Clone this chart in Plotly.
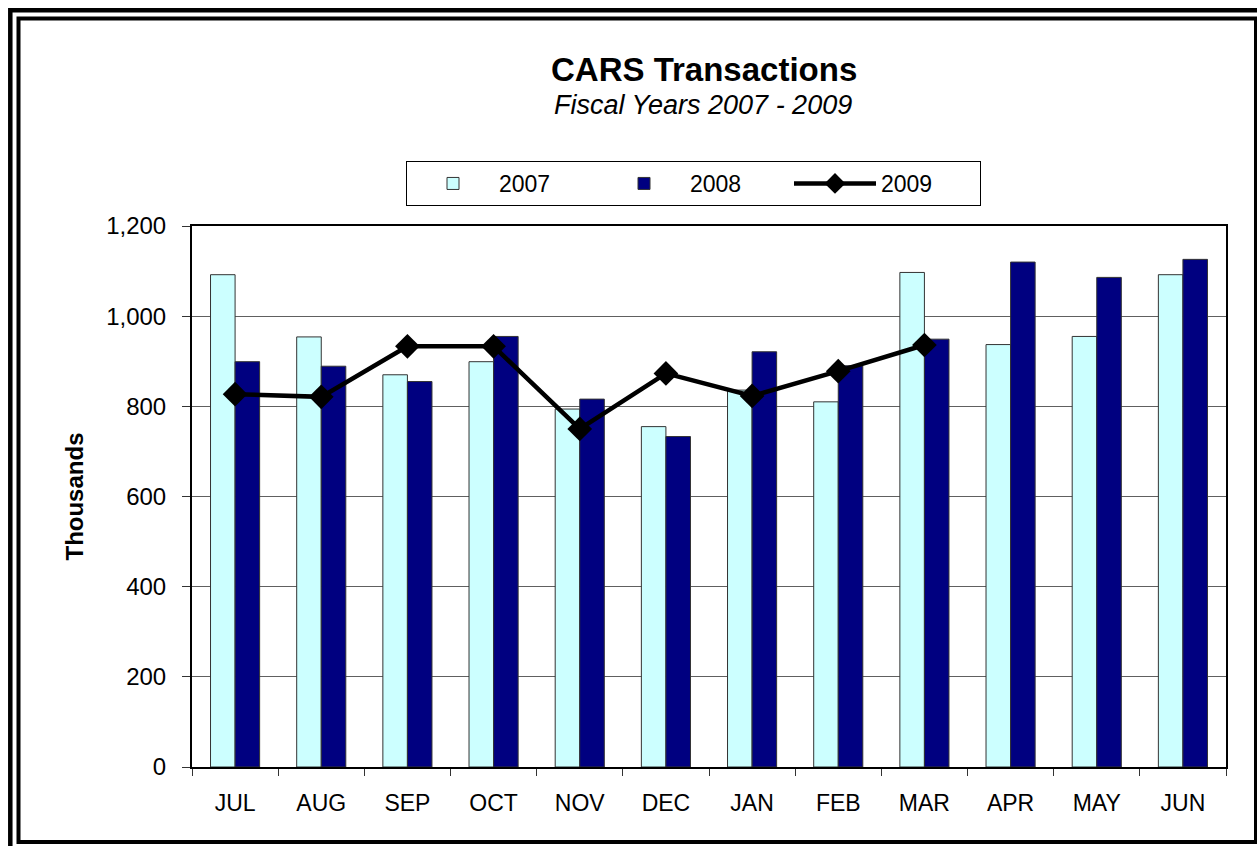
import plotly.graph_objects as go

months = ["JUL", "AUG", "SEP", "OCT", "NOV", "DEC", "JAN", "FEB", "MAR", "APR", "MAY", "JUN"]
fy2007 = [1092, 954, 870, 899, 794, 755, 836, 810, 1097, 937, 955, 1092]
fy2008 = [899, 889, 855, 955, 816, 733, 921, 890, 949, 1120, 1086, 1126]
fy2009 = [827, 821, 933, 933, 750, 873, 823, 878, 936, None, None, None]
y_ticks = [0, 200, 400, 600, 800, 1000, 1200]
y_ticktext = ["0", "200", "400", "600", "800", "1,000", "1,200"]

FONT = "Arial, Liberation Sans, sans-serif"
W, H = 1257, 846
L, R, T, B = 192, 1226, 226, 767  # plot area in pixels


def px_x(p):
    return (p - L) / (R - L)


def px_y(p):
    return (B - p) / (B - T)


fig = go.Figure()
fig.add_trace(go.Bar(
    x=months, y=fy2007, name="2007",
    marker=dict(color="#CCFFFF", line=dict(color="#333333", width=1)),
))
fig.add_trace(go.Bar(
    x=months, y=fy2008, name="2008",
    marker=dict(color="#000080", line=dict(color="#333333", width=1)),
))
fig.add_trace(go.Scatter(
    x=months, y=fy2009, name="2009", mode="lines+markers",
    line=dict(color="black", width=4.5),
    marker=dict(symbol="diamond", size=19, color="black"),
))

shapes = [
    # outer frame (left/top visible)
    dict(type="rect", xref="paper", yref="paper",
         x0=px_x(10.3), x1=px_x(1275), y0=px_y(10.3), y1=px_y(870),
         line=dict(color="black", width=4.5), fillcolor="rgba(0,0,0,0)", layer="above"),
    # inner frame
    dict(type="rect", xref="paper", yref="paper",
         x0=px_x(18.5), x1=px_x(1256), y0=px_y(18.5), y1=px_y(842),
         line=dict(color="black", width=4), fillcolor="rgba(0,0,0,0)", layer="above"),
]

annotations = [
    dict(text="<b>CARS Transactions</b>", xref="paper", yref="paper",
         x=px_x(704), y=px_y(70), xanchor="center", yanchor="middle",
         showarrow=False, font=dict(family=FONT, size=33, color="black")),
    dict(text="<i>Fiscal Years 2007 - 2009</i>", xref="paper", yref="paper",
         x=px_x(703), y=px_y(105), xanchor="center", yanchor="middle",
         showarrow=False, font=dict(family=FONT, size=27, color="black")),
]

fig.update_layout(
    width=W, height=H,
    margin=dict(l=L, r=W - R, t=T, b=H - B, pad=0),
    paper_bgcolor="white", plot_bgcolor="white",
    barmode="group", bargap=0.43, bargroupgap=0,
    font=dict(family=FONT, size=23, color="black"),
    shapes=shapes, annotations=annotations,
    showlegend=True,
    legend=dict(
        orientation="h", x=px_x(406), y=px_y(161), xanchor="left", yanchor="top",
        bordercolor="black", borderwidth=1, bgcolor="white",
        font=dict(family=FONT, size=23, color="black"),
        itemwidth=82, entrywidth=94, entrywidthmode="pixels",
        traceorder="normal",
    ),
)

fig.update_xaxes(
    type="category", range=[-0.5, len(months) - 0.5],
    showline=True, linecolor="black", linewidth=2, mirror=True,
    ticks="outside", tickson="boundaries", ticklen=7, tickcolor="#333333", tickwidth=1,
    ticklabelstandoff=14, showgrid=False,
    tickfont=dict(family=FONT, size=23, color="black"),
)
fig.update_yaxes(
    range=[0, 1200], tickvals=y_ticks, ticktext=y_ticktext,
    showline=True, linecolor="black", linewidth=2, mirror=True,
    ticks="outside", ticklen=8, tickcolor="#333333", tickwidth=1,
    ticklabelstandoff=11,
    showgrid=True, gridcolor="#606060", gridwidth=1, zeroline=False,
    tickfont=dict(family=FONT, size=24, color="black"),
    title=dict(text="<b>Thousands</b>", standoff=16,
               font=dict(family=FONT, size=24, color="black")),
)

fig.write_html(
    "out.html",
    config={"displayModeBar": False},
    post_script="document.body.style.margin='0';document.body.style.overflow='hidden';",
)
